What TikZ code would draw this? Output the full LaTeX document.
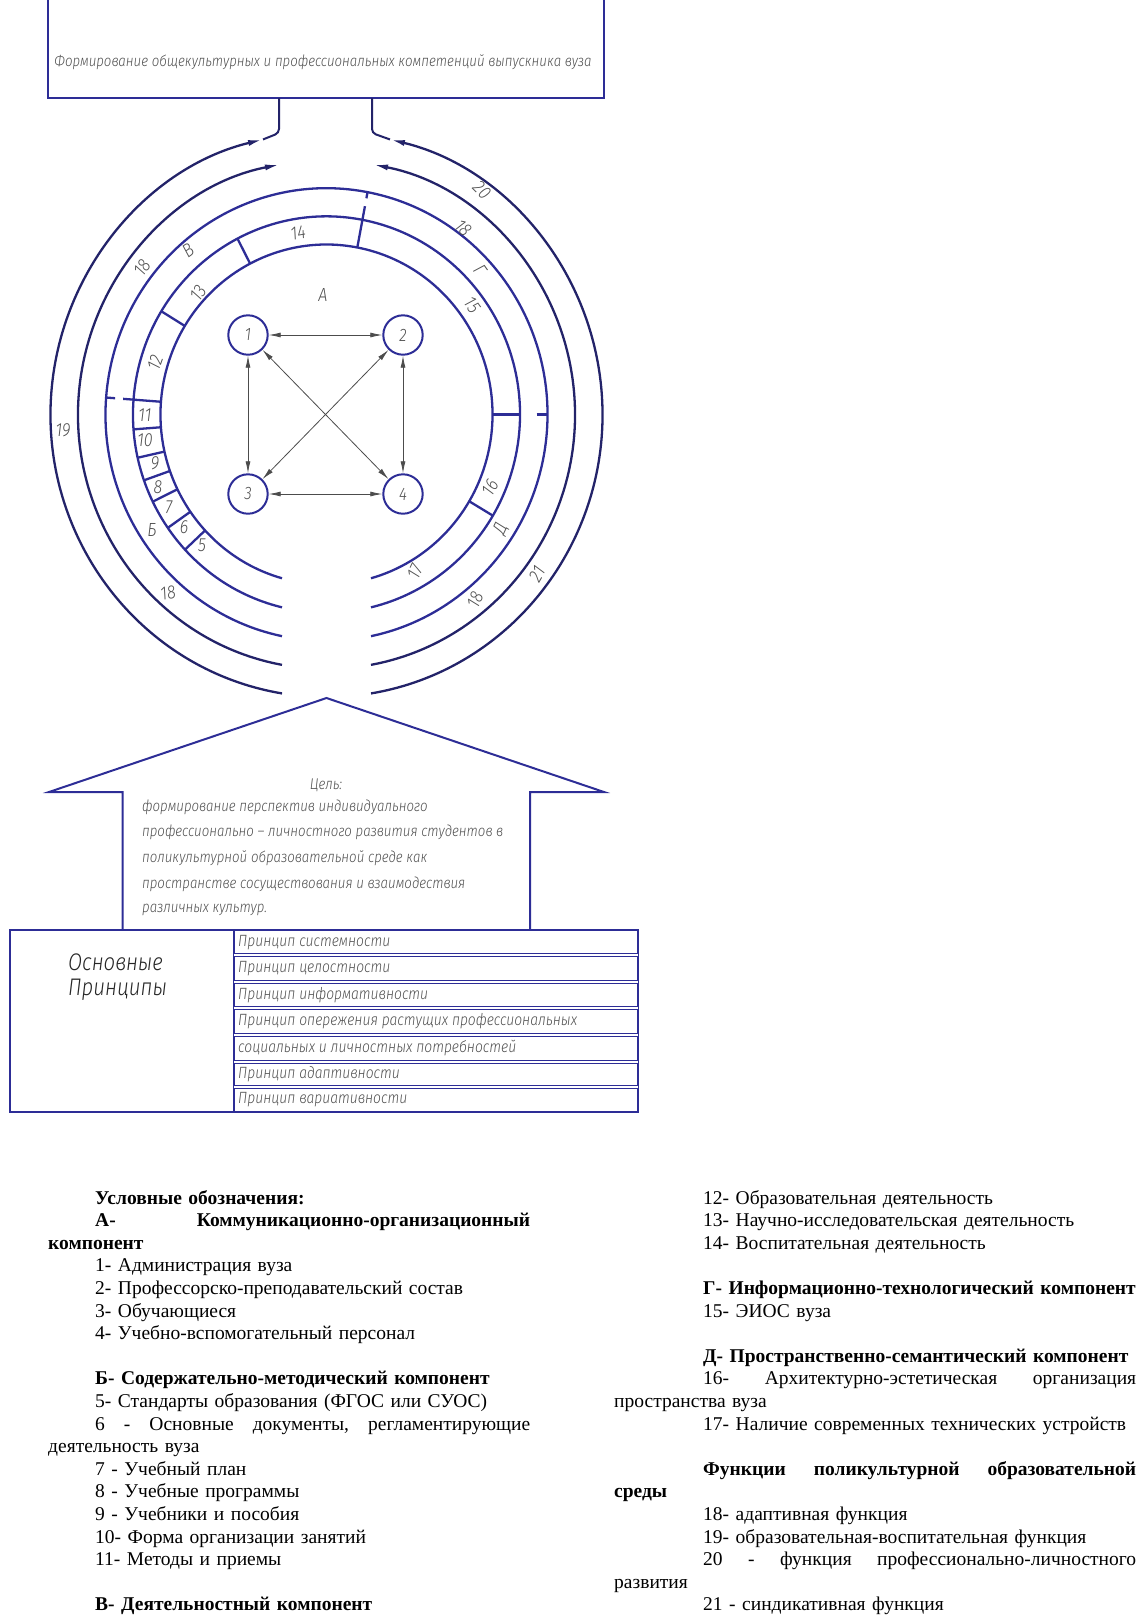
\documentclass[tikz,border=0pt]{standalone}
\usepackage{fontspec}
\setmainfont{Liberation Serif}
\newfontfamily\gost{Fira Sans Light Italic}[FakeStretch=0.85]
\usetikzlibrary{arrows.meta}

\definecolor{ringblue}{RGB}{45,45,150}
\definecolor{arcblue}{RGB}{35,35,105}
\definecolor{labgray}{RGB}{80,80,80}

\tikzset{
  ring/.style={draw=ringblue, line width=2.3pt},
  flowarc/.style={draw=arcblue, line width=2.3pt, -{Latex[length=15pt,width=6pt]}},
  boxline/.style={draw=ringblue, line width=2pt},
  lab/.style={text=labgray, inner sep=0pt, font=\gost\fontsize{19}{19}\selectfont},
  member/.style={circle, draw=ringblue, line width=2pt, minimum size=39.4pt,
    inner sep=0pt, text=labgray, font=\gost\fontsize{18}{18}\selectfont},
  link/.style={draw=black!70, line width=0.8pt,
    {Latex[length=12pt,width=5pt]}-{Latex[length=12pt,width=5pt]}},
  gosttext/.style={text=labgray, inner sep=0pt, font=\gost\fontsize{15.6}{15.6}\selectfont},
  rowtext/.style={gosttext, anchor=west, font=\gost\fontsize{16.3}{16.3}\selectfont},
  legendcol/.style={inner sep=0pt, anchor=north west, align=left,
    font=\fontsize{19.5}{22.6}\selectfont}
}

\begin{document}
\begin{tikzpicture}[x=1pt,y=1pt]
\useasboundingbox (0,0) rectangle (1140,-1615);

% goal box, its top edge is above the page
\draw[boxline] (48,0) -- (48,-98) -- (604,-98) -- (604,0);
\node[gosttext] (goal) at (323,-62) {Формирование общекультурных и профессиональных компетенций выпускника вуза};
\coordinate (stemL) at (279,-98);
\coordinate (stemR) at (372,-98);

% rings of the environment
\begin{scope}[shift={(326.5,-414.5)}, yscale=1.024]
  \foreach \r in {166,193.5,221}{
    \pgfmathsetmacro\d{asin(44.5/\r)}
    \draw[ring] ({270-\d}:\r) arc[start angle={270-\d}, end angle={\d-90}, radius=\r];
  }
  % function arcs with arrows at the top
  \foreach \r/\t/\n in {248.5/46.5/four, 276/63.5/five}{
    \pgfmathsetmacro\d{asin(44.5/\r)}
    \pgfmathsetmacro\e{asin(\t/\r)}
    \draw[flowarc] ({270-\d}:\r) arc[start angle={270-\d}, end angle={90+\e}, radius=\r] coordinate (l\n);
    \draw[flowarc] ({\d-90}:\r) arc[start angle={\d-90}, end angle={90-\e}, radius=\r] coordinate (r\n);
  }
  % cells of the inner band
  \foreach \a in {148.6,117.4,-30.7,184.3,192.6,199.4,206.1,214.9,223}
    \draw[ring] (\a:166) -- (\a:193.5);
  % borders of the components
  \draw[ring, dash pattern=on 38pt off 8pt on 30pt] (175.7:166) -- (175.7:221);
  \draw[ring, dash pattern=on 42pt off 8pt on 30pt] (79.3:166) -- (79.3:221);
  \draw[ring, dash pattern=on 27pt off 17pt on 30pt] (0:166) -- (0:221);
\end{scope}

\draw[boxline, draw=arcblue, rounded corners=4pt] (stemL) -- (279,-133) -- (lfive);
\draw[boxline, draw=arcblue, rounded corners=4pt] (stemR) -- (372,-133) -- (rfive);

% participants
\node[member] (m1) at (248,-335) {1};
\node[member] (m2) at (403,-335) {2};
\node[member] (m3) at (248,-494) {3};
\node[member] (m4) at (403,-494) {4};
\foreach \a/\b in {m1/m2, m3/m4, m1/m3, m2/m4, m1/m4, m2/m3}
  \draw[link] (\a) -- (\b);

% ring labels
\node[lab] (cA) at (323,-295) {А};
\node[lab, rotate=10] (l14) at (298,-233) {14};
\node[lab, rotate=55] (l13) at (198,-293) {13};
\node[lab, rotate=70] (l12) at (155,-363) {12};
\node[lab] (l11) at (145,-415) {11};
\node[lab] (l10) at (145,-440) {10};
\node[lab] (l9) at (155,-463) {9};
\node[lab] (l8) at (158,-487) {8};
\node[lab] (l7) at (169,-507) {7};
\node[lab] (l6) at (184,-527) {6};
\node[lab] (l5) at (202,-545) {5};
\node[lab, rotate=-55] (l15) at (472,-305) {15};
\node[lab, rotate=60] (l16) at (490,-488) {16};
\node[lab, rotate=65] (l17) at (415,-572) {17};
\node[lab] (cB) at (152,-530) {Б};
\node[lab, rotate=35] (cV) at (188,-250) {В};
\node[lab, rotate=-55] (cG) at (480,-270) {Г};
\node[lab, rotate=65] (cD) at (501,-529) {Д};
\node[lab, rotate=55] (l18a) at (142,-268) {18};
\node[lab, rotate=-45] (l18b) at (463,-228) {18};
\node[lab, rotate=65] (l18c) at (475,-600) {18};
\node[lab, rotate=10] (l18d) at (168,-593) {18};
\node[lab] (l19) at (63,-430) {19};
\node[lab, rotate=-45] (l20) at (482,-190) {20};
\node[lab, rotate=60] (l21) at (537,-574) {21};

% aim (house)
\draw[boxline] (122.6,-930) -- (122.6,-792) -- (49,-792) -- (326.5,-698)
  -- (604,-792) -- (530,-792) -- (530,-930);
\node[gosttext] (aim) at (326,-785) {Цель:};
\node[gosttext, anchor=west] (h1) at (142,-807) {формирование перспектив индивидуального};
\node[gosttext, anchor=west] (h2) at (142,-832) {профессионально – личностного развития студентов в};
\node[gosttext, anchor=west] (h3) at (142,-858) {поликультурной образовательной среде как};
\node[gosttext, anchor=west] (h4) at (142,-884) {пространстве сосуществования и взаимодествия};
\node[gosttext, anchor=west] (h5) at (142,-910) {различных культур.};

% principles table
\draw[boxline] (10,-930) rectangle (638,-1112);
\draw[boxline] (234,-930) -- (234,-1112);
\foreach \y in {955,982,1008,1035,1062,1087}
  \draw[boxline, line width=1.2pt, double=white, double distance=2pt] (234,-\y) -- (638,-\y);
\node[gosttext, text=black!85, font=\gost\fontsize{24}{24}\selectfont, anchor=west] (pr1) at (68,-962) {Основные};
\node[gosttext, text=black!85, font=\gost\fontsize{24}{24}\selectfont, anchor=west] (pr2) at (68,-990) {Принципы};
\node[rowtext] (p1) at (238,-942.5) {Принцип системности};
\node[rowtext] (p2) at (238,-968.5) {Принцип целостности};
\node[rowtext] (p3) at (238,-995) {Принцип информативности};
\node[rowtext] (p4) at (238,-1021.5) {Принцип опережения растущих профессиональных};
\node[rowtext] (p5) at (238,-1048.5) {социальных и личностных потребностей};
\node[rowtext] (p6) at (238,-1074.5) {Принцип адаптивности};
\node[rowtext] (p7) at (238,-1099.5) {Принцип вариативности};

% legend
\node[legendcol, text width=482pt] (legL) at (48,-1190) {%
\hspace*{47pt}\textbf{Условные обозначения:}\\
\hspace*{47pt}\makebox[435pt][s]{\textbf{А-\hfill Коммуникационно-организационный}}\\
\textbf{компонент}\\
\hspace*{47pt}1- Администрация вуза\\
\hspace*{47pt}2- Профессорско-преподавательский состав\\
\hspace*{47pt}3- Обучающиеся\\
\hspace*{47pt}4- Учебно-вспомогательный персонал\\[22.6pt]
\hspace*{47pt}\textbf{Б- Содержательно-методический компонент}\\
\hspace*{47pt}5- Стандарты образования (ФГОС или СУОС)\\
\hspace*{47pt}\makebox[435pt][s]{6\hfill -\hfill Основные\hfill документы,\hfill регламентирующие}\\
деятельность вуза\\
\hspace*{47pt}7 - Учебный план\\
\hspace*{47pt}8 - Учебные программы\\
\hspace*{47pt}9 - Учебники и пособия\\
\hspace*{47pt}10- Форма организации занятий\\
\hspace*{47pt}11- Методы и приемы\\[22.6pt]
\hspace*{47pt}\textbf{В- Деятельностный компонент}};
\node[legendcol, text width=522pt] (legR) at (614,-1190) {%
\hspace*{89pt}12- Образовательная деятельность\\
\hspace*{89pt}13- Научно-исследовательская деятельность\\
\hspace*{89pt}14- Воспитательная деятельность\\[22.6pt]
\hspace*{89pt}\textbf{Г- Информационно-технологический компонент}\\
\hspace*{89pt}15- ЭИОС вуза\\[22.6pt]
\hspace*{89pt}\textbf{Д- Пространственно-семантический компонент}\\
\hspace*{89pt}\makebox[433pt][s]{16-\hfill Архитектурно-эстетическая\hfill организация}\\
пространства вуза\\
\hspace*{89pt}17- Наличие современных технических устройств\\[22.6pt]
\hspace*{89pt}\makebox[433pt][s]{\textbf{Функции\hfill поликультурной\hfill образовательной}}\\
\textbf{среды}\\
\hspace*{89pt}18- адаптивная функция\\
\hspace*{89pt}19- образовательная-воспитательная функция\\
\hspace*{89pt}\makebox[433pt][s]{20\hfill -\hfill функция\hfill профессионально-личностного}\\
развития\\
\hspace*{89pt}21 - синдикативная функция};
\end{tikzpicture}
\end{document}
